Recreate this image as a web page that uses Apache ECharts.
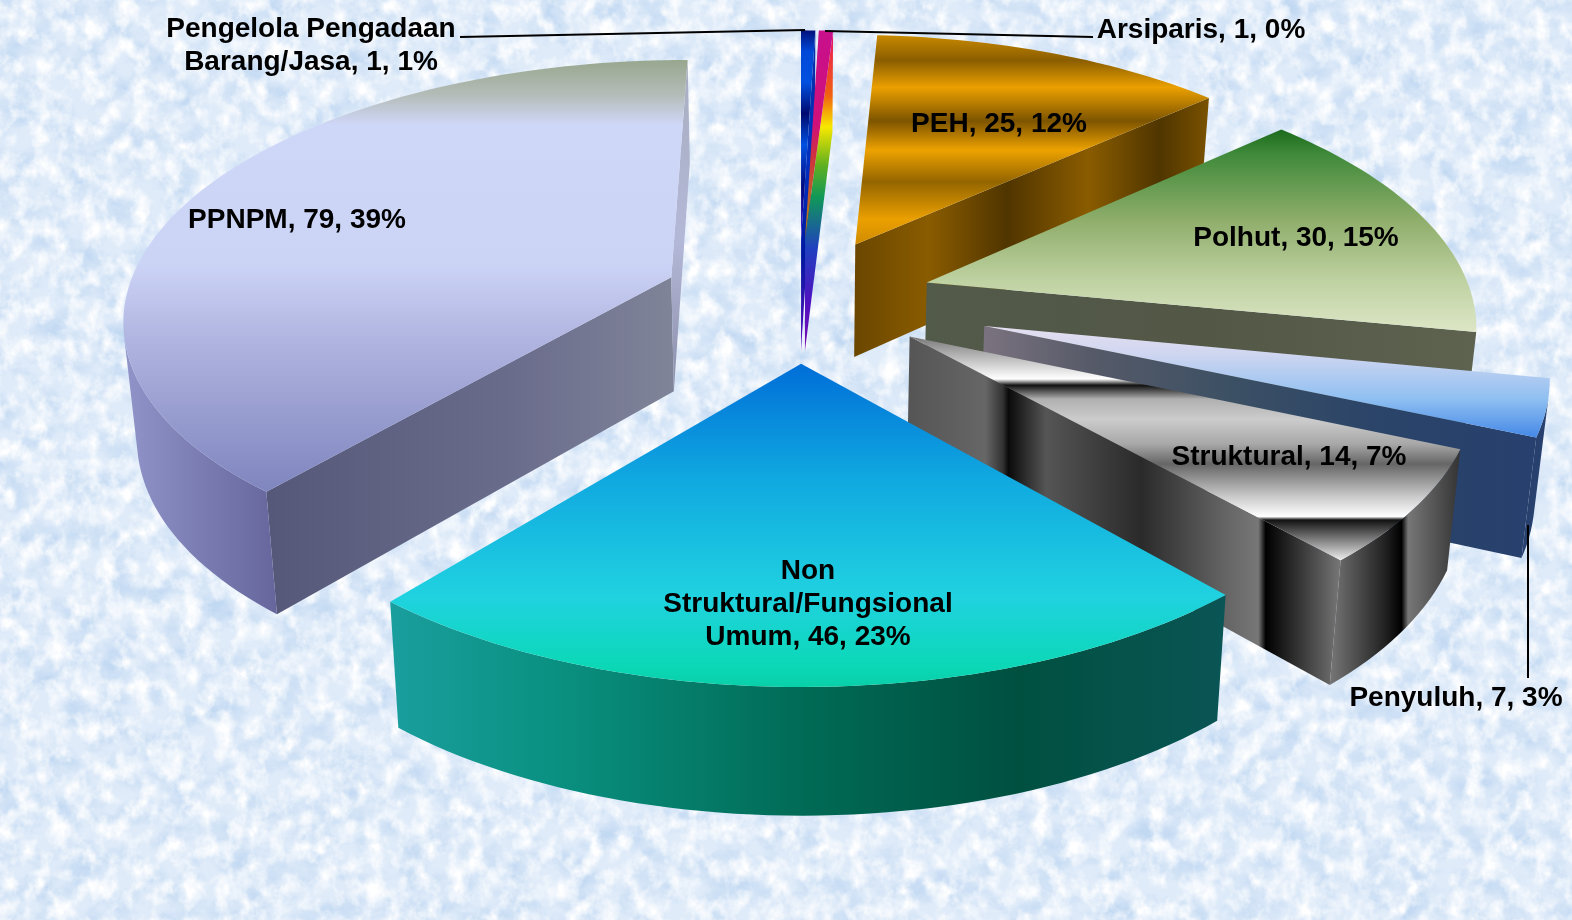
<!DOCTYPE html>
<html>
<head>
<meta charset="utf-8">
<style>
html,body{margin:0;padding:0;width:1572px;height:920px;overflow:hidden;background:#dbe9f8;}
#bg{position:absolute;left:0;top:0;width:1572px;height:920px;}
#chart{position:absolute;left:0;top:0;width:1572px;height:920px;}
</style>
<script src="https://cdn.jsdelivr.net/npm/echarts@6/dist/echarts.min.js"></script>
</head>
<body>
<svg id="bg" xmlns="http://www.w3.org/2000/svg" width="1572" height="920">
  <filter id="paper" x="0" y="0" width="100%" height="100%" color-interpolation-filters="sRGB">
    <feTurbulence type="fractalNoise" baseFrequency="0.03 0.04" numOctaves="5" seed="7"/>
    <feColorMatrix type="matrix" values="0 0 0 0 0.76  0 0 0 0 0.85  0 0 0 0 0.95  2.2 0 0 0 -0.85"/>
  </filter>
  <filter id="paper2" x="0" y="0" width="100%" height="100%" color-interpolation-filters="sRGB">
    <feTurbulence type="fractalNoise" baseFrequency="0.06 0.05" numOctaves="4" seed="23"/>
    <feColorMatrix type="matrix" values="0 0 0 0 1  0 0 0 0 1  0 0 0 0 1  0 2.4 0 0 -0.95"/>
  </filter>
  <rect width="1572" height="920" fill="#dfebf9"/>
  <rect width="1572" height="920" filter="url(#paper)"/>
  <rect width="1572" height="920" filter="url(#paper2)"/>
</svg>
<div id="chart"></div>
<script>
// ---- data, clockwise from the top of the pie ----
const categories = ['Arsiparis','PEH','Polhut','Penyuluh','Struktural','Non\nStruktural/Fungsional\nUmum','PPNPM','Pengelola Pengadaan\nBarang/Jasa'];
const values = [1,25,30,7,14,46,79,1];
const percents = [0,12,15,3,7,23,39,1];

// ---- projection of the tilted pie ----
const view = {cx:799,cy:299,rx:546,ry:255,persp:0.146,startDeg:1.8,baseScale:0.98,wall:115,wallV:11};
const explode = [0.245,0.245,0.245,0.35,0.245,0.245,0.252,0.245];
const drawRank = [2,3,5,6,7,8,4,1];

// ---- styling of each slice ----
const g = (x,y,x2,y2,stops)=>new echarts.graphic.LinearGradient(x,y,x2,y2,stops.map(s=>({offset:s[0],color:s[1]})));
const V = stops=>g(0,0,0,1,stops), H = stops=>g(0,0,1,0,stops);
const styles = [
 {top:V([[0,'#c8108c'],[.45,'#d0107a'],[.6,'#d03040'],[1,'#b09010']]),
  end:V([[0,'#e0107a'],[.08,'#ee3040'],[.2,'#f06010'],[.3,'#f8e800'],[.42,'#60b020'],[.52,'#109858'],[.68,'#2040c0'],[.85,'#5010c0'],[1,'#7a10b0']]),start:'#d0108a',arc:'#d0108a'},
 {top:V([[0,'#c98a00'],[.12,'#8a5d00'],[.25,'#eba000'],[.41,'#7d5400'],[.55,'#eda200'],[.70,'#946500'],[.88,'#eba000'],[1,'#d08c00']]),
  end:H([[0,'#6a4600'],[.21,'#8a5c00'],[.43,'#503500'],[.66,'#8a5c00'],[.86,'#4f3500'],[1,'#7a5200']]),start:'#6a4600',arc:'#7a5200'},
 {top:V([[0,'#1c6a1c'],[.12,'#3f8a3a'],[.45,'#90ae6c'],[.75,'#bfd2a2'],[1,'#dde6c6']]),
  end:H([[0,'#525a4a'],[.5,'#535746'],[1,'#5e6350']]),start:'#525a4a',arc:'#5e6350'},
 {top:V([[0,'#e6dff0'],[.25,'#cfd6f0'],[.65,'#90c0f2'],[1,'#4488e6']]),
  end:H([[0,'#7c7380'],[.2,'#565a68'],[.45,'#3c5064'],[.7,'#2b4468'],[1,'#27406e']]),start:'#27406e',arc:'#27406e'},
 {top:V([[0,'#777777'],[.19,'#ffffff'],[.218,'#111111'],[.28,'#b0b0b0'],[.37,'#cccccc'],[.48,'#a8a8a8'],[.57,'#666666'],[.72,'#cccccc'],[.805,'#ffffff'],[.82,'#111111'],[.86,'#444444'],[1,'#eeeeee']]),
  end:H([[0,'#555555'],[.18,'#666666'],[.22,'#333333'],[.233,'#0a0a0a'],[.32,'#555555'],[.54,'#2a2a2a'],[.74,'#666666'],[.81,'#777777'],[.827,'#000000'],[1,'#777777']]),
  start:'#333333',arc:H([[0,'#777777'],[.42,'#222222'],[.55,'#000000'],[.6,'#777777'],[1,'#333333']])},
 {top:V([[0,'#006ed8'],[.35,'#10a8e0'],[.72,'#20d2e0'],[.93,'#0cd8b8'],[1,'#08d0a8']]),
  end:'#0a5555',start:'#0a5555',arc:H([[0,'#1a9e9e'],[.2,'#0a9080'],[.5,'#006a55'],[.75,'#005040'],[1,'#0a5555']])},
 {top:V([[0,'#98a78e'],[.08,'#b4bcb8'],[.15,'#cfd7f8'],[.47,'#ccd4f6'],[.65,'#b0b4e0'],[1,'#7f85be']]),
  end:V([[0,'#a8aec0'],[.55,'#b4b8d8'],[1,'#8a8ea8']]),start:H([[0,'#555878'],[.6,'#6a6c8c'],[1,'#808498']]),arc:H([[0,'#9094c8'],[1,'#66669c']])},
 {top:V([[0,'#00107a'],[.1,'#0048d8'],[.25,'#0050e0'],[.4,'#000a70'],[.55,'#0050e0'],[.75,'#000a80'],[1,'#4010c8']]),
  end:V([[0,'#0a2ea0'],[.4,'#0030c0'],[.7,'#0018a0'],[1,'#6010c0']]),start:'#000a80',arc:'#000a80'}
];

// ---- label placement ----
const labelPos = [[1201,30],[999,124],[1296,238],[1456,698],[1289,457],[808,604],[297,220],[311,46]];
const leaders = {0:{from:[825,31],to:[1093,37]},7:{from:[805,30],to:[460,37]},3:{from:[1528,525],to:[1528,678]}};

// ---- geometry ----
const total = values.reduce((a,b)=>a+b,0);
const rad = d=>d*Math.PI/180;
function project(X,Y){
  const w = 1 - view.persp*Y;
  return [view.cx + view.rx*X/w, view.cy + view.ry*Y/w, Y];
}
function lower(p){
  return [view.cx+(p[0]-view.cx)*view.baseScale, p[1]+view.wall+view.wallV*p[2]];
}
function sliceAngles(i){
  const before = values.slice(0,i).reduce((a,b)=>a+b,0);
  return [view.startDeg+before/total*360, view.startDeg+(before+values[i])/total*360];
}
function visible(a,b){
  const la = lower(a);
  return (b[0]-a[0])*(la[1]-a[1])-(b[1]-a[1])*(la[0]-a[0]) < 0;
}
function renderItem(params,api){
  const i = params.dataIndex, value = api.value(0);
  const [a0,a1] = sliceAngles(i);
  const mid = rad((a0+a1)/2), ex = explode[i];
  const ox = Math.sin(mid)*ex, oy = -Math.cos(mid)*ex;
  const apex = project(ox,oy);
  const steps = Math.max(4,Math.ceil((a1-a0)/1.5));
  const arc = [];
  for(let s=0;s<=steps;s++){
    const t = rad(a0+(a1-a0)*s/steps);
    arc.push(project(ox+Math.sin(t),oy-Math.cos(t)));
  }
  const st = styles[i], z = drawRank[i]*10;
  const poly = (pts,fill,zz)=>({type:'polygon',z2:z+zz,silent:true,
      shape:{points:pts.map(p=>[p[0],p[1]])},style:{fill:fill,stroke:null}});
  const quad = (a,b,fill)=>poly([a,b,lower(b),lower(a)],fill,1);
  const kids = [];
  // cut faces
  if(visible(apex,arc[0])) kids.push(quad(apex,arc[0],st.start));
  const last = arc[arc.length-1];
  if(visible(last,apex)) kids.push(quad(last,apex,st.end));
  // outer face: the run of arc segments facing the viewer
  let run = [];
  const flush = ()=>{
    if(run.length>1) kids.push(poly(run.concat(run.map(lower).reverse()),st.arc,2));
    run = [];
  };
  for(let s=0;s<steps;s++){
    if(visible(arc[s],arc[s+1])){ if(!run.length) run.push(arc[s]); run.push(arc[s+1]); }
    else flush();
  }
  flush();
  kids.push(poly([apex].concat(arc),st.top,3));
  // leader line
  if(leaders[i]){
    kids.push({type:'line',z2:95,silent:true,shape:{x1:leaders[i].from[0],y1:leaders[i].from[1],x2:leaders[i].to[0],y2:leaders[i].to[1]},
      style:{stroke:'#000',lineWidth:2}});
  }
  // label
  kids.push({type:'text',z2:100,silent:true,x:labelPos[i][0],y:labelPos[i][1],
    style:{text:categories[i]+', '+value+', '+percents[i]+'%',align:'center',verticalAlign:'middle',
      fontFamily:'"Liberation Sans",Arial,sans-serif',fontWeight:'bold',fontSize:28,lineHeight:33,fill:'#000'}});
  return {type:'group',children:kids};
}
const chart = echarts.init(document.getElementById('chart'),null,{renderer:'canvas',width:1572,height:920});
chart.setOption({
  backgroundColor:'transparent',
  animation:false,
  series:[{type:'custom',coordinateSystem:'none',renderItem:renderItem,
    data:categories.map((c,i)=>({name:c,value:[values[i]]}))}]
});
</script>
</body>
</html>
